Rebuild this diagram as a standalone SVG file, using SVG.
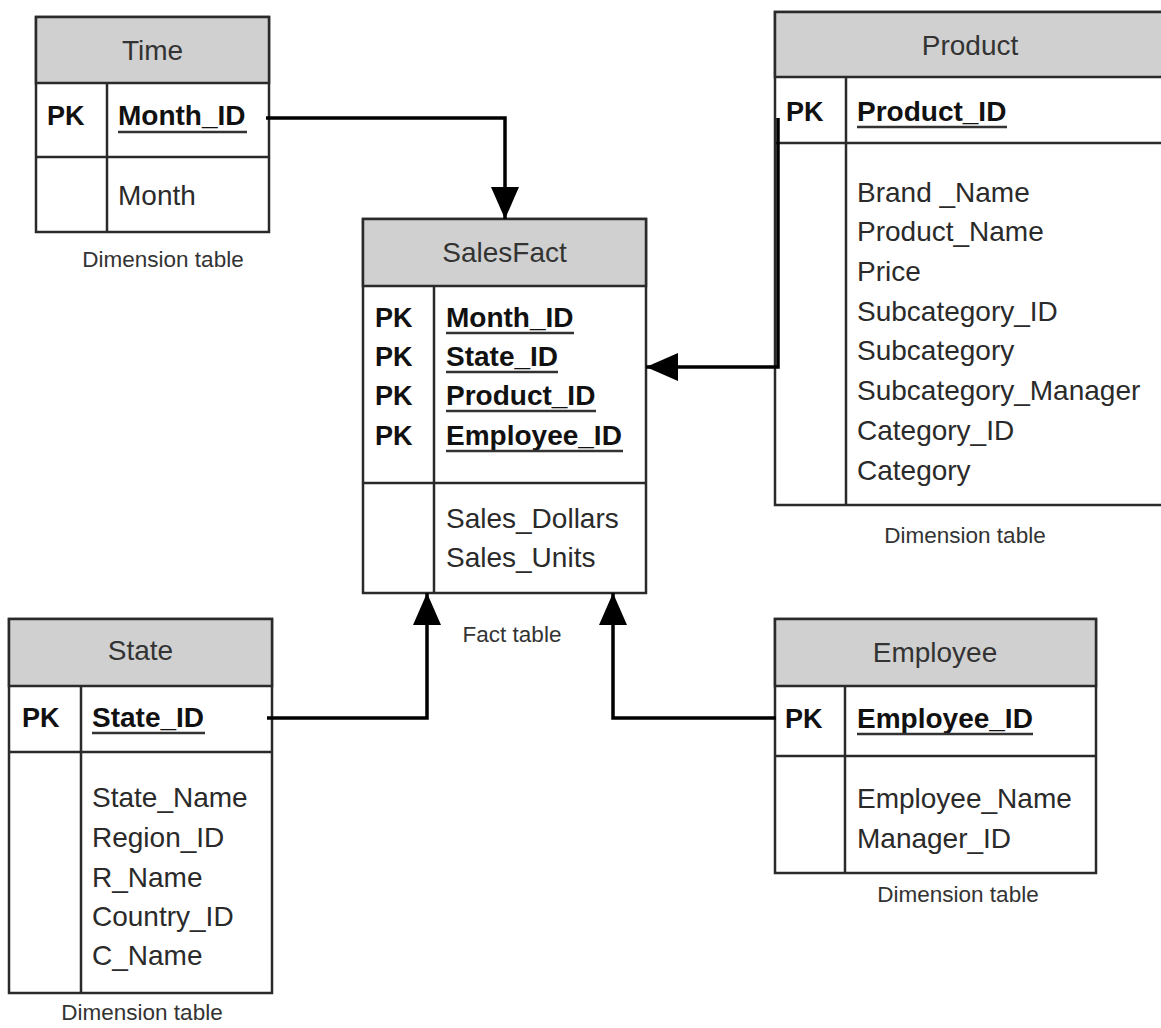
<svg xmlns="http://www.w3.org/2000/svg" width="1161" height="1028" viewBox="0 0 1161 1028">
  <defs>
    <marker id="arrow" viewBox="0 0 32 28" refX="32" refY="14" markerWidth="32" markerHeight="28" markerUnits="userSpaceOnUse" orient="auto">
      <path d="M0,0 L32,14 L0,28 Z" fill="#000"/>
    </marker>
    <style>
      .frame { fill: #fff; stroke: #2a2a2a; stroke-width: 2.5; }
      .head { fill: #d0d0d0; stroke: #2a2a2a; stroke-width: 2.5; }
      .rule { stroke: #2a2a2a; stroke-width: 2.5; fill: none; }
      .title { font-family: "Liberation Sans", Arial, sans-serif; font-size: 28px; fill: #333; text-anchor: middle; }
      .pk { font-family: "Liberation Sans", Arial, sans-serif; font-size: 27px; font-weight: bold; fill: #111; }
      .key { font-family: "Liberation Sans", Arial, sans-serif; font-size: 28px; font-weight: bold; fill: #111; }
      .field { font-family: "Liberation Sans", Arial, sans-serif; font-size: 28px; fill: #2a2a2a; }
      .caption { font-family: "Liberation Sans", Arial, sans-serif; font-size: 22.5px; fill: #333; text-anchor: middle; }
      .uline { stroke: #333; stroke-width: 2.5; }
      .link { stroke: #000; stroke-width: 3.5; fill: none; }
    </style>
  </defs>

  <rect width="1161" height="1028" fill="#fff"/>

  <!-- Time dimension -->
  <g id="time">
    <rect class="frame" x="36" y="17" width="233" height="215"/>
    <rect class="head" x="36" y="17" width="233" height="66"/>
    <line class="rule" x1="36" y1="157" x2="269" y2="157"/>
    <line class="rule" x1="107" y1="83" x2="107" y2="232"/>
    <text class="title" x="152.5" y="60">Time</text>
    <text class="pk" x="47" y="125">PK</text>
    <text class="key" x="118" y="125">Month_ID</text>
    <line class="uline" x1="118" y1="132" x2="247" y2="132"/>
    <text class="field" x="118" y="205">Month</text>
    <text class="caption" x="163" y="267">Dimension table</text>
  </g>

  <!-- SalesFact fact table -->
  <g id="salesfact">
    <rect class="frame" x="363" y="219" width="283" height="374"/>
    <rect class="head" x="363" y="219" width="283" height="67"/>
    <line class="rule" x1="363" y1="483" x2="646" y2="483"/>
    <line class="rule" x1="434" y1="286" x2="434" y2="593"/>
    <text class="title" x="504.5" y="262">SalesFact</text>
    <text class="pk" x="375" y="327">PK</text>
    <text class="pk" x="375" y="366">PK</text>
    <text class="pk" x="375" y="405">PK</text>
    <text class="pk" x="375" y="445">PK</text>
    <text class="key" x="446" y="327">Month_ID</text>
    <text class="key" x="446" y="366">State_ID</text>
    <text class="key" x="446" y="405">Product_ID</text>
    <text class="key" x="446" y="445">Employee_ID</text>
    <line class="uline" x1="446" y1="333" x2="574" y2="333"/>
    <line class="uline" x1="446" y1="372" x2="558" y2="372"/>
    <line class="uline" x1="446" y1="411" x2="596" y2="411"/>
    <line class="uline" x1="446" y1="451" x2="623" y2="451"/>
    <text class="field" x="446" y="528">Sales_Dollars</text>
    <text class="field" x="446" y="567">Sales_Units</text>
    <text class="caption" x="512" y="642">Fact table</text>
  </g>

  <!-- Product dimension -->
  <g id="product">
    <rect class="frame" x="775" y="12" width="391" height="493"/>
    <rect class="head" x="775" y="12" width="391" height="65"/>
    <line class="rule" x1="775" y1="143" x2="1166" y2="143"/>
    <line class="rule" x1="846" y1="77" x2="846" y2="505"/>
    <text class="title" x="970" y="55">Product</text>
    <text class="pk" x="786" y="121">PK</text>
    <text class="key" x="857" y="121">Product_ID</text>
    <line class="uline" x1="857" y1="127" x2="1007" y2="127"/>
    <text class="field" x="857" y="202">Brand _Name</text>
    <text class="field" x="857" y="241">Product_Name</text>
    <text class="field" x="857" y="281">Price</text>
    <text class="field" x="857" y="321">Subcategory_ID</text>
    <text class="field" x="857" y="360">Subcategory</text>
    <text class="field" x="857" y="400">Subcategory_Manager</text>
    <text class="field" x="857" y="440">Category_ID</text>
    <text class="field" x="857" y="480">Category</text>
    <text class="caption" x="965" y="543">Dimension table</text>
  </g>

  <!-- State dimension -->
  <g id="state">
    <rect class="frame" x="9" y="619" width="263" height="374"/>
    <rect class="head" x="9" y="619" width="263" height="67"/>
    <line class="rule" x1="9" y1="752" x2="272" y2="752"/>
    <line class="rule" x1="81" y1="686" x2="81" y2="993"/>
    <text class="title" x="140.5" y="660">State</text>
    <text class="pk" x="22" y="727">PK</text>
    <text class="key" x="92" y="727">State_ID</text>
    <line class="uline" x1="92" y1="733" x2="205" y2="733"/>
    <text class="field" x="92" y="807">State_Name</text>
    <text class="field" x="92" y="847">Region_ID</text>
    <text class="field" x="92" y="887">R_Name</text>
    <text class="field" x="92" y="926">Country_ID</text>
    <text class="field" x="92" y="965">C_Name</text>
    <text class="caption" x="142" y="1020">Dimension table</text>
  </g>

  <!-- Employee dimension -->
  <g id="employee">
    <rect class="frame" x="775" y="619" width="321" height="254"/>
    <rect class="head" x="775" y="619" width="321" height="67"/>
    <line class="rule" x1="775" y1="756" x2="1096" y2="756"/>
    <line class="rule" x1="845" y1="686" x2="845" y2="873"/>
    <text class="title" x="935" y="662">Employee</text>
    <text class="pk" x="785" y="728">PK</text>
    <text class="key" x="857" y="728">Employee_ID</text>
    <line class="uline" x1="857" y1="734" x2="1033" y2="734"/>
    <text class="field" x="857" y="808">Employee_Name</text>
    <text class="field" x="857" y="848">Manager_ID</text>
    <text class="caption" x="958" y="902">Dimension table</text>
  </g>

  <!-- Foreign-key links into the fact table -->
  <g id="connectors">
    <path class="link" d="M266,118 H505 V219" marker-end="url(#arrow)"/>
    <path class="link" d="M778,118 V367 H646" marker-end="url(#arrow)"/>
    <path class="link" d="M267,718 H427 V593" marker-end="url(#arrow)"/>
    <path class="link" d="M776,718 H613 V593" marker-end="url(#arrow)"/>
  </g>
</svg>
